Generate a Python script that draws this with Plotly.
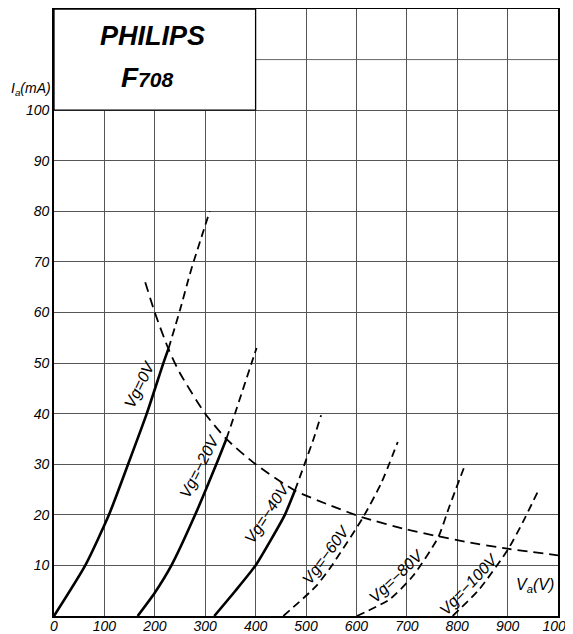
import plotly.graph_objects as go

# ---- data ----
x_ticks = [0, 100, 200, 300, 400, 500, 600, 700, 800, 900, 1000]
y_ticks = [10, 20, 30, 40, 50, 60, 70, 80, 90, 100]
extra_grid_i = [110]

vg0_solid_v = [0, 62, 109, 147, 184, 217, 227]
vg0_solid_i = [0, 10, 20, 30, 40, 50, 52.8]
vg0_dash_v = [227, 250, 272, 309]
vg0_dash_i = [52.8, 60.5, 68.4, 80]

vg20_solid_v = [166, 200, 233, 280, 322, 342]
vg20_solid_i = [0, 4.6, 10, 20, 30, 35]
vg20_dash_v = [342, 359, 392, 402]
vg20_dash_i = [35, 40, 50, 53]

vg40_solid_v = [318, 360, 400, 430, 458, 478]
vg40_solid_i = [0, 5, 10, 15, 20, 24.8]
vg40_dash_v = [478, 497, 515, 530]
vg40_dash_i = [24.8, 30, 35, 39.7]

vg60_dash_v = [455, 520, 550, 612, 649, 682]
vg60_dash_i = [0, 5.9, 9.8, 19.3, 26.2, 34.4]

vg80_dash_v = [601, 666, 712, 762, 785, 816]
vg80_dash_i = [0, 3.3, 7.9, 15.5, 21.8, 30]

vg100_dash_v = [791, 844, 901, 930, 959]
vg100_dash_i = [0, 5.3, 13.2, 18.5, 24.4]

pmax_v = [181, 200, 227, 250, 300, 342, 400, 478, 550, 612, 700, 760, 820, 900, 1000]
pmax_i = [66, 60, 52.8, 48, 40, 35, 30, 24.8, 21.8, 19.5, 17.1, 15.8, 14.6, 13.3, 12]

curve_labels = ["Vg=0V", "Vg=−20V", "Vg=−40V", "Vg=−60V", "Vg=−80V", "Vg=−100V"]
label_v = [170, 288, 422, 540, 678, 822]
label_i = [45.7, 29.6, 20.3, 12.1, 7.9, 6.3]
label_angle = [-64, -63, -57, -54, -44, -47]

FONT = "Liberation Sans"
fig = go.Figure()

def add(v, i, dash, width):
    fig.add_trace(go.Scatter(
        x=v, y=i, mode="lines",
        line=dict(color="black", width=width, dash=dash, shape="spline", smoothing=0.6),
        hoverinfo="skip", showlegend=False))

for v, i in [(vg0_solid_v, vg0_solid_i), (vg20_solid_v, vg20_solid_i), (vg40_solid_v, vg40_solid_i)]:
    add(v, i, "solid", 2.6)
for v, i in [(vg0_dash_v, vg0_dash_i), (vg20_dash_v, vg20_dash_i), (vg40_dash_v, vg40_dash_i),
             (vg60_dash_v, vg60_dash_i), (vg80_dash_v, vg80_dash_i), (vg100_dash_v, vg100_dash_i)]:
    add(v, i, "8px,5px", 1.8)
add(pmax_v, pmax_i, "10px,6px", 1.8)

for txt, v, i, a in zip(curve_labels, label_v, label_i, label_angle):
    fig.add_annotation(x=v, y=i, text=txt, showarrow=False, textangle=a,
                       font=dict(family=FONT, size=16, color="black", style="italic"))

fig.add_annotation(x=955, y=6.1, text="V<sub>a</sub>(V)", showarrow=False,
                   font=dict(family=FONT, size=16, color="black", style="italic"))
fig.add_annotation(xref="paper", yref="paper", x=-0.045, y=0.887, xanchor="center",
                   text="I<sub>a</sub>(mA)", showarrow=False,
                   font=dict(family=FONT, size=14, color="black", style="italic"))

# extra grid line above 100 mA
for g in extra_grid_i:
    fig.add_shape(type="line", x0=0, x1=1000, y0=g, y1=g,
                  line=dict(color="#555555", width=0.9), layer="below")

# title box
fig.add_shape(type="rect", x0=0, x1=400, y0=100, y1=120, fillcolor="white",
              line=dict(color="black", width=1.3), layer="above")
fig.add_annotation(x=195, y=114.6, text="PHILIPS", showarrow=False,
                   font=dict(family=FONT, size=27, color="black", style="italic", weight="bold"))
fig.add_annotation(x=185, y=106.5, text="F<span style='font-size:21px'>708</span>", showarrow=False,
                   font=dict(family=FONT, size=28, color="black", style="italic", weight="bold"))

axis_common = dict(showgrid=True, gridcolor="#555555", gridwidth=0.9,
                   showline=True, linecolor="black", linewidth=1.6, mirror=True,
                   ticks="", zeroline=False, automargin=False, ticklabeloverflow="allow",
                   tickfont=dict(family=FONT, size=14, color="black", style="italic"))
fig.update_xaxes(range=[0, 1000], tickvals=x_ticks, ticklabelstandoff=-4, **axis_common)
fig.update_yaxes(range=[0, 120], tickvals=y_ticks, **axis_common)

# the page body has an 8px margin, so the figure is sized/offset to compensate
fig.update_layout(width=565, height=626, margin=dict(l=46, r=15, t=1, b=18),
                  plot_bgcolor="white", paper_bgcolor="white", showlegend=False)

fig.write_html("out.html")
